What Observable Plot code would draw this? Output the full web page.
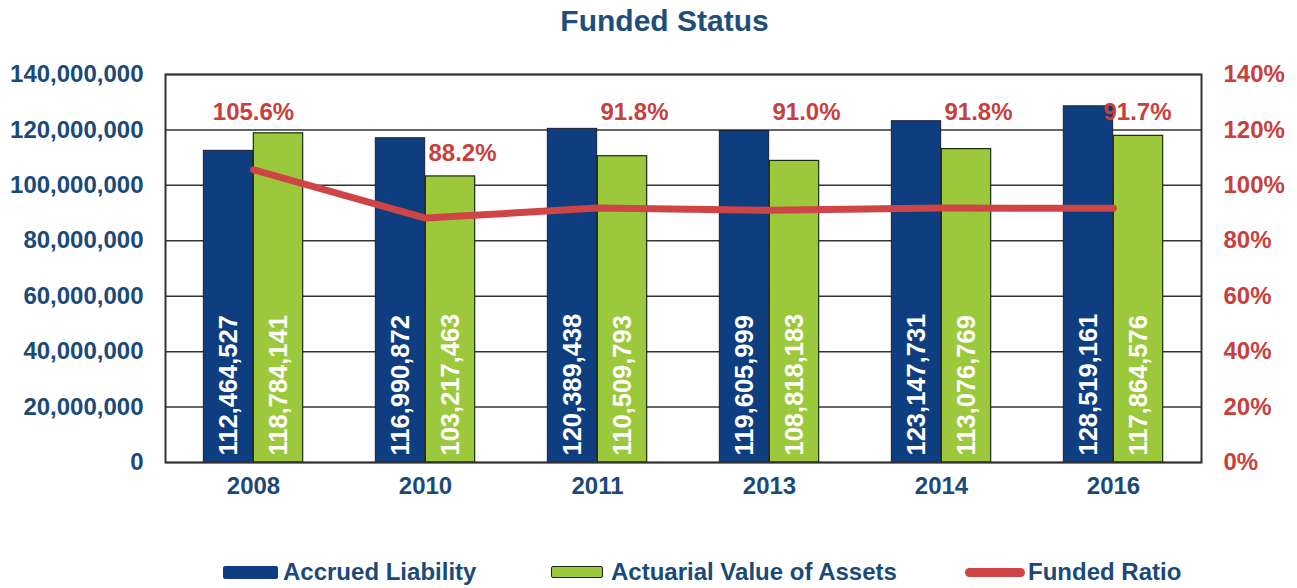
<!DOCTYPE html>
<html>
<head>
<meta charset="utf-8">
<script src="https://cdn.jsdelivr.net/npm/d3@7"></script>
<script src="https://cdn.jsdelivr.net/npm/@observablehq/plot@0.6"></script>
<style>
  html, body { margin: 0; padding: 0; background: #fff; }
  body { width: 1297px; height: 588px; position: relative; overflow: hidden; font-family: "Liberation Sans", Arial, sans-serif; }
  #title { position: absolute; left: 32px; top: 0; width: 1265px; height: 44px; line-height: 42px; text-align: center;
           font-size: 30px; font-weight: bold; color: #1f4e79; }
  #chart { position: absolute; left: 0; top: 44px; }
  .leg { position: absolute; top: 558px; height: 28px; line-height: 28px; font-size: 24px; font-weight: bold; color: #1b4a78; white-space: nowrap; }
  .sw { position: absolute; }
</style>
</head>
<body>
<div id="title">Funded Status</div>
<div id="chart"></div>
<div id="legend"></div>
<script>
// ---- data ----
const years = ["2008", "2010", "2011", "2013", "2014", "2016"];
const accruedLiability = [112464527, 116990872, 120389438, 119605999, 123147731, 128519161];
const actuarialAssets = [118784141, 103217463, 110509793, 108818183, 113076769, 117864576];
const fundedRatio = [105.6, 88.2, 91.8, 91.0, 91.8, 91.7];
const leftTicks = [0, 20000000, 40000000, 60000000, 80000000, 100000000, 120000000, 140000000];
const rightTicks = [0, 20, 40, 60, 80, 100, 120, 140];
const seriesNames = ["Accrued Liability", "Actuarial Value of Assets", "Funded Ratio"];

// ---- styling ----
const BLUE = "#0e3e80", GREEN = "#9cc83c", RED = "#cf4444", RED_TXT = "#c8403c", AXIS_BLUE = "#1b4a78";
const W = 1297, H = 478, mL = 165, mR = 96, mT = 30, mB = 60;
const bw = (W - mL - mR) / years.length;
const barW = 50;

const rows = years.map((y, i) => ({year: y, accrued: accruedLiability[i], assets: actuarialAssets[i], ratio: fundedRatio[i]}));
const fmt = d3.format(",");
const lblLevel = d => (d.year === "2010" ? 111.5 : 126.3) * 1e6;

const textStyle = {fontWeight: "bold", fontSize: 24};
const valStyle = {fontWeight: "bold", fontSize: 25.5};

const chart = Plot.plot({
  width: W, height: H,
  marginLeft: mL, marginRight: mR, marginTop: mT, marginBottom: mB,
  style: {fontFamily: '"Liberation Sans", Arial, sans-serif', background: "white", overflow: "visible"},
  x: {type: "band", domain: years, padding: 0},
  y: {domain: [0, 140000000]},
  marks: [
    Plot.gridY(leftTicks, {stroke: "#333", strokeOpacity: 1, strokeWidth: 1.5}),
    Plot.barY(rows, {x: "year", y: "accrued", fill: BLUE, stroke: "#1a2030", strokeWidth: 1,
      insetLeft: bw / 2 - barW, insetRight: bw / 2}),
    Plot.barY(rows, {x: "year", y: "assets", fill: GREEN, stroke: "#1a2a10", strokeWidth: 1.2,
      insetLeft: bw / 2, insetRight: bw / 2 - barW}),
    Plot.frame({stroke: "#333", strokeWidth: 2}),
    Plot.text(rows, {x: "year", y: 0, text: d => fmt(d.accrued), rotate: -90, textAnchor: "start",
      dx: -barW / 2, dy: -7, fill: "white", ...valStyle}),
    Plot.text(rows, {x: "year", y: 0, text: d => fmt(d.assets), rotate: -90, textAnchor: "start",
      dx: barW / 2, dy: -7, fill: "white", ...valStyle}),
    Plot.line(rows, {x: "year", y: d => d.ratio * 1e6, stroke: RED, strokeWidth: 7, strokeLinejoin: "round"}),
    Plot.text(rows, {filter: d => d.year === "2008", x: "year", y: lblLevel, text: d => d.ratio.toFixed(1) + "%", fill: RED_TXT, ...textStyle}),
    Plot.text(rows, {filter: d => d.year !== "2008" && d.year !== "2016", x: "year", y: lblLevel, text: d => d.ratio.toFixed(1) + "%", dx: 37, fill: RED_TXT, ...textStyle}),
    Plot.text(rows, {filter: d => d.year === "2016", x: "year", y: lblLevel, text: d => d.ratio.toFixed(1) + "%", dx: 24, fill: RED_TXT, ...textStyle}),
    Plot.axisY(leftTicks, {anchor: "left", tickSize: 0, tickPadding: 22, tickFormat: d3.format(","), fill: AXIS_BLUE, ...textStyle, label: null}),
    Plot.axisY(rightTicks.map(p => p * 1e6), {anchor: "right", tickSize: 0, tickPadding: 22, tickFormat: d => (d / 1e6) + "%", fill: RED_TXT, ...textStyle, label: null}),
    Plot.axisX(years, {anchor: "bottom", tickSize: 0, tickPadding: 14, fill: AXIS_BLUE, ...textStyle, label: null})
  ]
});
document.getElementById("chart").appendChild(chart);

// ---- legend ----
const legend = document.getElementById("legend");
const items = [
  {name: seriesNames[0], left: 223, sw: `<div class="sw" style="left:0;top:8px;width:55px;height:13px;background:${BLUE};border-radius:2px"></div>`, textLeft: 60},
  {name: seriesNames[1], left: 551, sw: `<div class="sw" style="left:0;top:8px;width:50px;height:10px;background:${GREEN};border:1.5px solid #1a2a10;border-radius:2px"></div>`, textLeft: 60},
  {name: seriesNames[2], left: 965, sw: `<div class="sw" style="left:0;top:10px;width:60px;height:9px;background:${RED};border-radius:5px"></div>`, textLeft: 63}
];
for (const it of items) {
  const d = document.createElement("div");
  d.className = "leg";
  d.style.left = it.left + "px";
  d.innerHTML = it.sw + `<span style="position:absolute;left:${it.textLeft}px;top:0">${it.name}</span>`;
  legend.appendChild(d);
}
</script>
</body>
</html>
